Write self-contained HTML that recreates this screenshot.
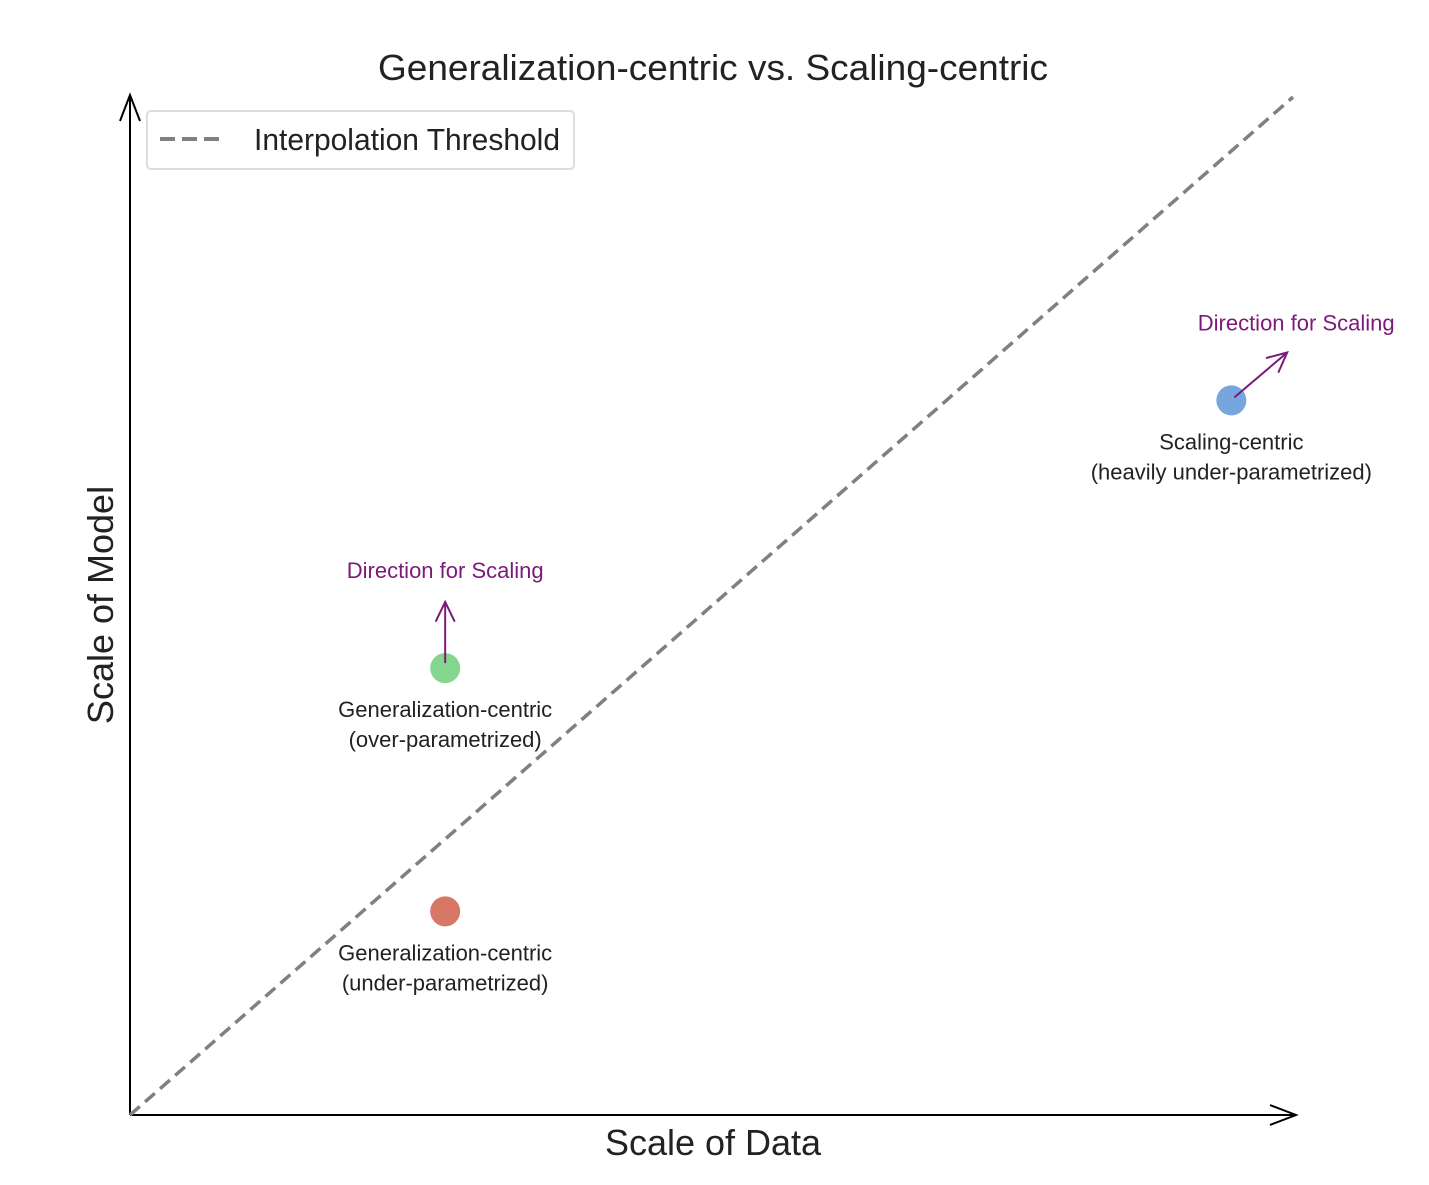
<!DOCTYPE html>
<html><head><meta charset="utf-8"><style>
html,body{margin:0;padding:0;background:#fff}
svg{display:block}
text{font-family:"Liberation Sans Narrow","Liberation Sans",sans-serif}
</style></head><body>
<svg id="chart" width="1429" height="1185">
<text x="713" y="80" text-anchor="middle" font-size="36" textLength="670" lengthAdjust="spacingAndGlyphs" fill="#222">Generalization-centric vs. Scaling-centric</text>
<g id="axes">
<line x1="130" y1="1115" x2="1296" y2="1115" stroke="#000" stroke-width="2"/>
<polyline points="1270,1105 1296,1115 1270,1125" fill="none" stroke="#000" stroke-width="2"/>
<line x1="130" y1="1115" x2="130" y2="95" stroke="#000" stroke-width="2"/>
<polyline points="120,121 130,95 140,121" fill="none" stroke="#000" stroke-width="2"/>
</g>
<text x="713" y="1155" text-anchor="middle" font-size="36" fill="#222">Scale of Data</text>
<text transform="translate(113,605) rotate(-90)" text-anchor="middle" font-size="36" fill="#222">Scale of Model</text>
<g id="marks"></g>
<g>
<rect x="147" y="111" width="427" height="58" rx="4" fill="#fff" stroke="#ddd" stroke-width="2"/>
<line x1="160" y1="139" x2="226" y2="139" stroke="#808080" stroke-width="4" stroke-dasharray="15,7"/>
<text x="254" y="150" font-size="31" textLength="306" lengthAdjust="spacingAndGlyphs" fill="#222">Interpolation Threshold</text>
</g>
</svg>
<script>
const xDomain=[0,10], yDomain=[0,10];
const pointX=[2.71,2.71,9.47];
const pointY=[2.0,4.39,7.02];
const pointColors=["#d0604c","#6fcf7a","#5f97d8"];
const pointNames=["under-parametrized","over-parametrized","scaling-centric"];
const labelLines=[["Generalization-centric","(under-parametrized)"],["Generalization-centric","(over-parametrized)"],["Scaling-centric","(heavily under-parametrized)"]];
const arrowDX=[null,0,0.48];
const arrowDY=[null,0.65,0.47];
const thresholdX=[0,10], thresholdY=[0,10];
const sx=v=>130+(v-xDomain[0])/(xDomain[1]-xDomain[0])*1163;
const sy=v=>1115-(v-yDomain[0])/(yDomain[1]-yDomain[0])*1018;
const NS="http://www.w3.org/2000/svg";
const g=document.getElementById("marks");
function mk(t,a){const e=document.createElementNS(NS,t);for(const k in a)e.setAttribute(k,a[k]);g.appendChild(e);return e;}
const th=mk("line",{x1:sx(thresholdX[0]),y1:sy(thresholdY[0]),x2:sx(thresholdX[1]),y2:sy(thresholdY[1]),stroke:"#808080","stroke-width":3.5,"stroke-dasharray":"13,7"});


pointX.forEach((x,i)=>{
  const cx=sx(x),cy=sy(pointY[i]);
  const c=mk("circle",{cx:cx,cy:cy,r:15,fill:pointColors[i],"fill-opacity":0.85});
  
  
  labelLines[i].forEach((l,j)=>{
    const t=mk("text",{x:cx,y:cy+49+j*30,"text-anchor":"middle","font-size":22,fill:"#222"});
    t.textContent=l;
    
    
  });
  if(arrowDX[i]!==null){
    const x1=cx+ (arrowDX[i]?3:0), y1=cy-(arrowDX[i]?3:5);
    const x2=sx(x+arrowDX[i]), y2=sy(pointY[i]+arrowDY[i]);
    const a=mk("line",{x1:x1,y1:y1,x2:x2,y2:y2,stroke:"#7a1a7a","stroke-width":2});
    
    
    const ang=Math.atan2(y2-y1,x2-x1),L=22,sp=0.45;
    const h=mk("polyline",{points:`${x2-L*Math.cos(ang-sp)},${y2-L*Math.sin(ang-sp)} ${x2},${y2} ${x2-L*Math.cos(ang+sp)},${y2-L*Math.sin(ang+sp)}`,fill:"none",stroke:"#7a1a7a","stroke-width":2});
    
    
    const t=mk("text",{x:i===1?cx:x2+9,y:y2-(i===1?24:22),"text-anchor":"middle","font-size":22,fill:"#7a1a7a"});
    t.textContent="Direction for Scaling";
    
    
  }
});
</script>
</body></html>
